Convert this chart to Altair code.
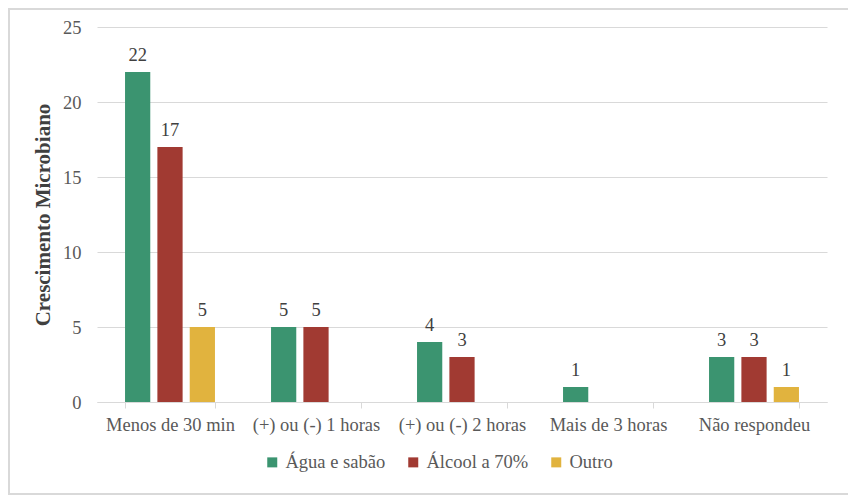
import altair as alt
import pandas as pd

categories = ["Menos de 30 min", "(+) ou (-) 1 horas", "(+) ou (-) 2 horas", "Mais de 3 horas", "Não respondeu"]
series = ["Água e sabão", "Álcool a 70%", "Outro"]
agua = [22, 5, 4, 1, 3]
alcool = [17, 5, 3, None, 3]
outro = [5, None, None, None, 1]
colors = ["#3b9470", "#a13a32", "#e1b33e"]

rows = []
for s, vals in zip(series, [agua, alcool, outro]):
    for c, v in zip(categories, vals):
        rows.append({"cat": c, "serie": s, "valor": v})
df = pd.DataFrame(rows)

FONT = "Liberation Serif"
FS = 18.5
W, H = 730, 375

x = alt.X("cat:N", sort=categories, title=None,
          scale=alt.Scale(paddingInner=0.384, paddingOuter=0.192),
          axis=alt.Axis(labelAngle=0, labelFont=FONT, labelFontSize=FS, labelColor="#595959",
                        domainColor="#d9d9d9", tickColor="#d9d9d9", tickSize=6, tickBand="extent",
                        labelPadding=7, grid=False))
xo = alt.XOffset("serie:N", sort=series, scale=alt.Scale(paddingInner=0.22, paddingOuter=0))
y = alt.Y("valor:Q", scale=alt.Scale(domain=[0, 25]), title="Crescimento Microbiano",
          axis=alt.Axis(values=[0, 5, 10, 15, 20, 25], labelFont=FONT, labelFontSize=FS,
                        labelColor="#595959", gridColor="#d9d9d9", domain=False, ticks=False,
                        labelPadding=16, titleFont=FONT, titleFontSize=21, titleFontWeight="bold",
                        titleColor="#404040", titlePadding=9))
color = alt.Color("serie:N", sort=series, scale=alt.Scale(domain=series, range=colors),
                  legend=alt.Legend(title=None, orient="none", direction="horizontal",
                                    legendX=166, legendY=426, symbolType="square", symbolSize=100,
                                    symbolStrokeWidth=0, labelFont=FONT, labelFontSize=FS,
                                    labelColor="#595959", columnPadding=18, labelOffset=4))

border = alt.Chart(pd.DataFrame({"a": [0]})).mark_rect(
    fill=None, stroke="#d9d9d9", strokeWidth=2, clip=False
).encode(x=alt.value(-88), x2=alt.value(W + 22), y=alt.value(-18), y2=alt.value(H + 92))

base = alt.Chart(df)
bars = base.mark_bar().encode(x=x, xOffset=xo, y=y, color=color)
labels = base.transform_filter("datum.valor != null").mark_text(
    baseline="bottom", dy=-7, font=FONT, fontSize=FS, color="#404040"
).encode(x=x, xOffset=xo, y=y, text=alt.Text("valor:Q"))

chart = alt.layer(border, bars, labels).properties(
    width=W, height=H,
    autosize=alt.AutoSizeParams(type="none"),
    padding={"left": 89, "top": 19, "right": 21, "bottom": 93},
).configure_view(stroke=None)

chart.save("out.html", embed_options={"renderer": "svg", "actions": False})
